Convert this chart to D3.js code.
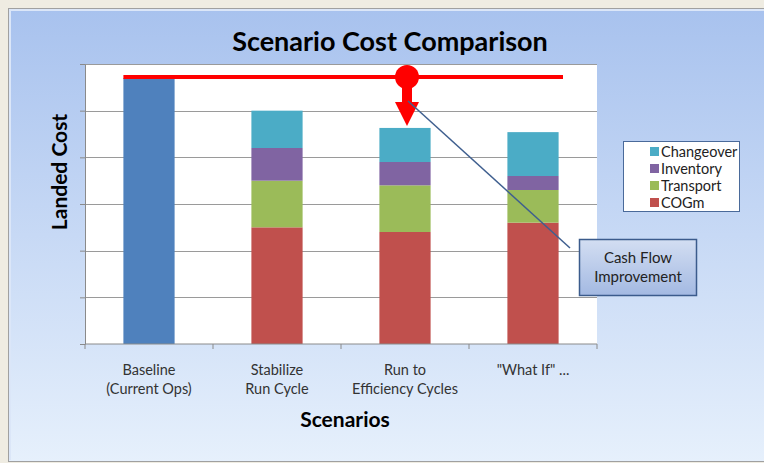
<!DOCTYPE html>
<html>
<head>
<meta charset="utf-8">
<script src="https://cdn.jsdelivr.net/npm/d3@7"></script>
<style>
  body { margin: 0; background: #efece2; }
  text { font-family: Lato, "Open Sans", sans-serif; }
</style>
</head>
<body>
<svg id="chart" width="764" height="463"></svg>
<script>
// scenario cost data
const scenarios = ["Baseline\n(Current Ops)", "Stabilize\nRun Cycle", "Run to\nEfficiency Cycles", "\"What If\" ..."];
const baseline = [5.7, 0, 0, 0];
const cogm = [0, 2.5, 2.4, 2.6];
const transport = [0, 1.0, 1.0, 0.7];
const inventory = [0, 0.7, 0.5, 0.3];
const changeover = [0, 0.8, 0.73, 0.94];
const seriesNames = ["COGm", "Transport", "Inventory", "Changeover"];
const seriesColors = ["#c0504d", "#9bbb59", "#8064a2", "#4bacc6"];
const yTicks = [0, 1, 2, 3, 4, 5, 6];

const svg = d3.select("#chart");
const margin = {left: 85, right: 167, top: 64, bottom: 119};
const width = 764, height = 463;

// background frame
const defs = svg.append("defs");
const bg = defs.append("linearGradient").attr("id", "bg").attr("x1", 0).attr("y1", 0).attr("x2", 0).attr("y2", 1);
bg.append("stop").attr("offset", "0%").attr("stop-color", "#a8c2ee");
bg.append("stop").attr("offset", "100%").attr("stop-color", "#e6f0fc");
const boxg = defs.append("linearGradient").attr("id", "boxg").attr("x1", 0).attr("y1", 0).attr("x2", 0).attr("y2", 1);
boxg.append("stop").attr("offset", "0%").attr("stop-color", "#d3def2");
boxg.append("stop").attr("offset", "100%").attr("stop-color", "#a3b9e2");

svg.append("rect").attr("x", 8.5).attr("y", 8.5).attr("width", 760).attr("height", 453)
    .attr("fill", "url(#bg)").attr("stroke", "#a0a0a0");
svg.append("path").attr("d", "M10,460 V10 H766").attr("fill", "none").attr("stroke", "#dbe6f8").attr("stroke-width", 2);

const x = d3.scaleBand().domain(scenarios).range([margin.left, width - margin.right]).paddingInner(0.6).paddingOuter(0.3);
const y = d3.scaleLinear().domain([0, 6]).range([height - margin.bottom, margin.top]);

// plot area
svg.append("rect").attr("x", margin.left).attr("y", margin.top)
    .attr("width", width - margin.right - margin.left).attr("height", height - margin.bottom - margin.top)
    .attr("fill", "#fff");

svg.append("g").selectAll("line").data(yTicks.slice(1)).join("line")
    .attr("x1", margin.left).attr("x2", width - margin.right)
    .attr("y1", d => Math.round(y(d)) + 0.5).attr("y2", d => Math.round(y(d)) + 0.5)
    .attr("stroke", "#9a9a9a");

svg.append("g").attr("transform", `translate(${margin.left},0)`)
    .call(d3.axisLeft(y).tickValues(yTicks).tickFormat("").tickSize(5).tickSizeOuter(0))
    .call(g => g.selectAll("path,line").attr("stroke", "#8a8a8a"));

// baseline bar
svg.append("g").selectAll("rect").data(scenarios.map((s, i) => ({s, v: baseline[i]})).filter(d => d.v > 0)).join("rect")
    .attr("x", d => x(d.s)).attr("width", x.bandwidth())
    .attr("y", d => y(d.v)).attr("height", d => y(0) - y(d.v))
    .attr("fill", "#4f81bd");

// stacked bars
const rows = scenarios.map((s, i) => ({s, COGm: cogm[i], Transport: transport[i], Inventory: inventory[i], Changeover: changeover[i]}));
const stack = d3.stack().keys(seriesNames)(rows);
svg.append("g").selectAll("g").data(stack).join("g")
    .attr("fill", (d, i) => seriesColors[i])
    .selectAll("rect").data(d => d.filter(p => p[1] > p[0])).join("rect")
    .attr("x", d => x(d.data.s)).attr("width", x.bandwidth())
    .attr("y", d => y(d[1])).attr("height", d => y(d[0]) - y(d[1]));

// x axis
const xAxis = svg.append("g").attr("transform", `translate(0,${y(0)})`);
const bounds = d3.range(scenarios.length + 1).map(i => margin.left + i * (width - margin.right - margin.left) / scenarios.length);
xAxis.append("line").attr("x1", margin.left).attr("x2", width - margin.right).attr("stroke", "#8a8a8a");
xAxis.selectAll("line.tk").data(bounds).join("line").attr("class", "tk")
    .attr("x1", d => d).attr("x2", d => d).attr("y1", 0).attr("y2", 5).attr("stroke", "#8a8a8a");
xAxis.selectAll("text").data(scenarios).join("text")
    .attr("x", d => x(d) + x.bandwidth() / 2).attr("y", 31)
    .attr("text-anchor", "middle").attr("font-size", 14.5).attr("fill", "#333")
    .each(function(d) {
        d.split("\n").forEach((t, i) => d3.select(this).append("tspan")
            .attr("x", x(d) + x.bandwidth() / 2).attr("dy", i ? 19 : 0).text(t));
    });

// titles
svg.append("text").attr("x", 390).attr("y", 51).attr("text-anchor", "middle")
    .attr("font-size", 27).attr("font-weight", "bold").text("Scenario Cost Comparison");
svg.append("text").attr("x", 345).attr("y", 427).attr("text-anchor", "middle")
    .attr("font-size", 21).attr("font-weight", "bold").text("Scenarios");
svg.append("text").attr("transform", "translate(67,172) rotate(-90)").attr("text-anchor", "middle")
    .attr("font-size", 21).attr("font-weight", "bold").text("Landed Cost");

// red reference line and arrow
const lineY = y(baseline[0]) - 1;
const arrowX = 407;
svg.append("line").attr("x1", x(scenarios[0])).attr("x2", 563).attr("y1", lineY).attr("y2", lineY)
    .attr("stroke", "#ff0000").attr("stroke-width", 4);
svg.append("rect").attr("x", arrowX - 5).attr("y", lineY).attr("width", 10).attr("height", 26).attr("fill", "#ff0000");
svg.append("path").attr("d", `M${arrowX - 12},${lineY + 25} L${arrowX + 12},${lineY + 25} L${arrowX},${y(changeover[2] + inventory[2] + transport[2] + cogm[2]) - 2} Z`)
    .attr("fill", "#ff0000");
svg.append("circle").attr("cx", arrowX).attr("cy", lineY).attr("r", 12).attr("fill", "#ff0000");

// callout
svg.append("line").attr("x1", 408).attr("y1", 101).attr("x2", 570).attr("y2", 248)
    .attr("stroke", "#3f5f8f").attr("stroke-width", 1.5);
svg.append("rect").attr("x", 579.5).attr("y", 239.5).attr("width", 117).attr("height", 56)
    .attr("fill", "url(#boxg)").attr("stroke", "#3b5b8c").attr("stroke-width", 1.5);
svg.append("text").attr("x", 638).attr("y", 263).attr("text-anchor", "middle").attr("font-size", 15).attr("fill", "#222").text("Cash Flow");
svg.append("text").attr("x", 638).attr("y", 282).attr("text-anchor", "middle").attr("font-size", 15).attr("fill", "#222").text("Improvement");

// legend
const legend = svg.append("g").attr("transform", "translate(623,141)");
legend.append("rect").attr("x", 0.5).attr("y", 0.5).attr("width", 116).attr("height", 70)
    .attr("fill", "#fff").attr("stroke", "#4a6a9a");
const legendItems = seriesNames.slice().reverse();
legendItems.forEach((n, i) => {
    const gi = legend.append("g").attr("transform", `translate(27,${10 + i * 17})`);
    gi.append("rect").attr("x", 0).attr("y", -4).attr("width", 9).attr("height", 9)
        .attr("fill", seriesColors[seriesNames.indexOf(n)]);
    gi.append("text").attr("x", 11).attr("y", 5.5).attr("font-size", 14.5).attr("fill", "#222").text(n);
});
</script>
</body>
</html>
